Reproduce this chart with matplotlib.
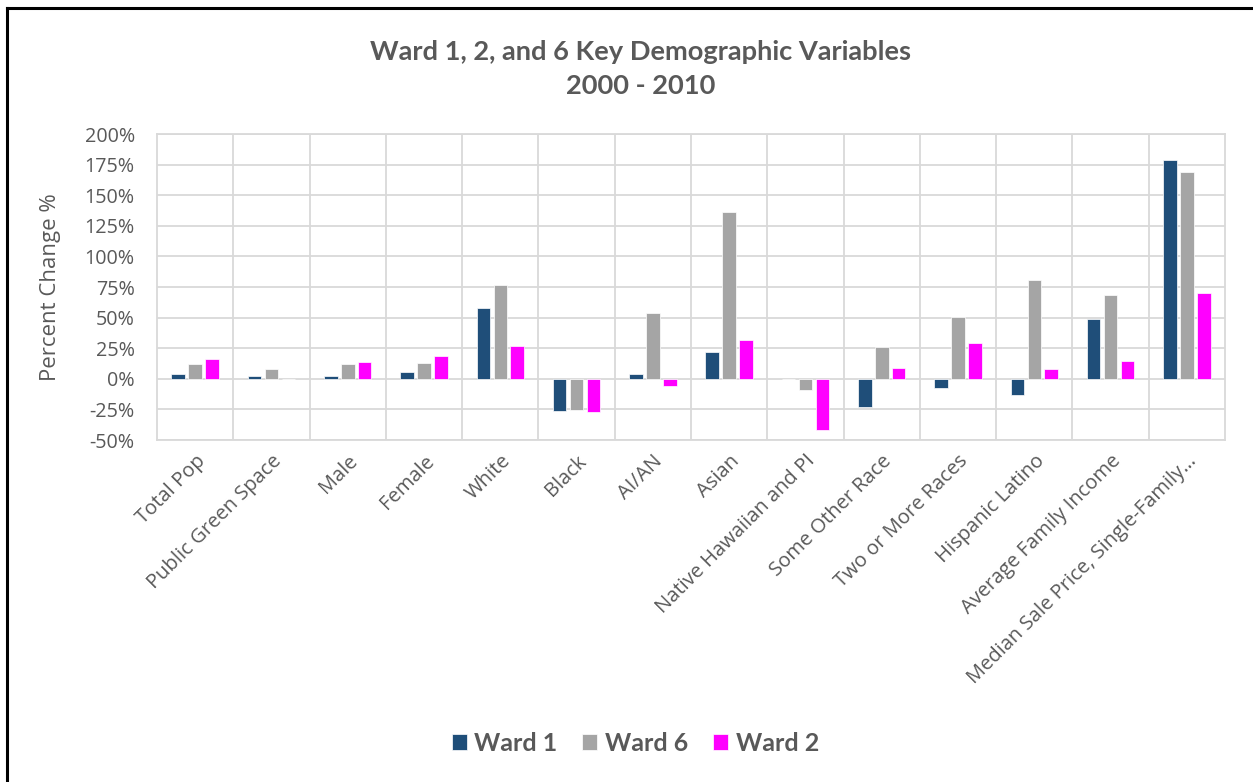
import numpy as np
import matplotlib
matplotlib.use('Agg')
from matplotlib import pyplot as plt
from matplotlib.lines import Line2D
from matplotlib.ticker import FuncFormatter, MultipleLocator

# percent change 2000 - 2010 by variable
categories = ['Total Pop', 'Public Green Space', 'Male', 'Female', 'White', 'Black',
              'AI/AN', 'Asian', 'Native Hawaiian and PI', 'Some Other Race',
              'Two or More Races', 'Hispanic Latino', 'Average Family Income',
              'Median Sale Price, Single-Family\u2026']
ward1 = [3.8, 2.4, 2.2, 5.2, 58.0, -26.6, 3.8, 22.0, 0.0, -23.0, -7.6, -13.0, 49.1, 178.8]
ward6 = [12.2, 7.9, 12.2, 12.7, 76.5, -25.8, 53.7, 136.0, -9.5, 26.0, 50.5, 80.6, 68.6, 169.0]
ward2 = [16.0, 0.0, 13.6, 18.7, 26.9, -26.9, -6.2, 31.7, -41.5, 9.2, 29.3, 8.1, 14.9, 70.3]

series = [('Ward 1', ward1, '#1F4E79'),
          ('Ward 6', ward6, '#A5A5A5'),
          ('Ward 2', ward2, '#FF00FF')]

txt = '#595959'
grid = '#D9D9D9'
plt.rcParams['font.family'] = ['Open Sans', 'DejaVu Sans']

fig = plt.figure(figsize=(12.53, 7.82), dpi=100)
ax = fig.add_axes([0.1253, 0.4373, 0.8524, 0.3913])

x = np.arange(len(categories))
step = 0.222
width = 0.178
for i, (name, vals, col) in enumerate(series):
    ax.bar(x + (i - 1) * step, vals, width, color=col, label=name,
           edgecolor='white', linewidth=0.5, zorder=3)

ax.set_xlim(-0.5, len(categories) - 0.5)
ax.set_ylim(-50, 200)
ax.yaxis.set_major_locator(MultipleLocator(25))
ax.yaxis.set_major_formatter(FuncFormatter(lambda v, p: '%d%%' % v))
ax.set_xticks(x)
ax.set_xticks(x[:-1] + 0.5, minor=True)
ax.set_xticklabels(categories, rotation=45, ha='right', rotation_mode='anchor',
                   fontsize=14.5, color=txt)
ax.tick_params(axis='x', which='both', length=0, pad=8)
ax.tick_params(axis='y', length=0, labelsize=14.2, labelcolor=txt, pad=16)
ax.grid(axis='y', which='major', color=grid, linewidth=1.3, zorder=0)
ax.grid(axis='x', which='minor', color=grid, linewidth=1.3, zorder=0)
for s in ax.spines.values():
    s.set_color(grid)
    s.set_linewidth(1.3)

ax.set_ylabel('Percent Change %', fontsize=16, color=txt, labelpad=17)

fig.text(0.511, 0.934, 'Ward 1, 2, and 6 Key Demographic Variables',
         ha='center', va='center', fontsize=19.6, fontweight='bold', color=txt,
         family=['Lato', 'DejaVu Sans'])
fig.text(0.511, 0.890, '2000 - 2010', ha='center', va='center', fontsize=19.6,
         fontweight='bold', color=txt, family=['Lato', 'DejaVu Sans'])

leg = fig.legend(loc='center', bbox_to_anchor=(0.507, 0.049), ncol=3, frameon=False,
                 handlelength=0.6, handleheight=0.6, handletextpad=0.3,
                 columnspacing=1.0, prop={'size': 18, 'weight': 'bold', 'family': ['Lato', 'DejaVu Sans']})
for t in leg.get_texts():
    t.set_color(txt)

# outer frame (left and top edges)
fig.add_artist(Line2D([7 / 1253, 7 / 1253], [0, 1 - 8 / 782], transform=fig.transFigure,
                      color='black', linewidth=2.2))
fig.add_artist(Line2D([7 / 1253, 1], [1 - 8 / 782, 1 - 8 / 782], transform=fig.transFigure,
                      color='black', linewidth=2.2))

fig.savefig('out.png', dpi=100)
